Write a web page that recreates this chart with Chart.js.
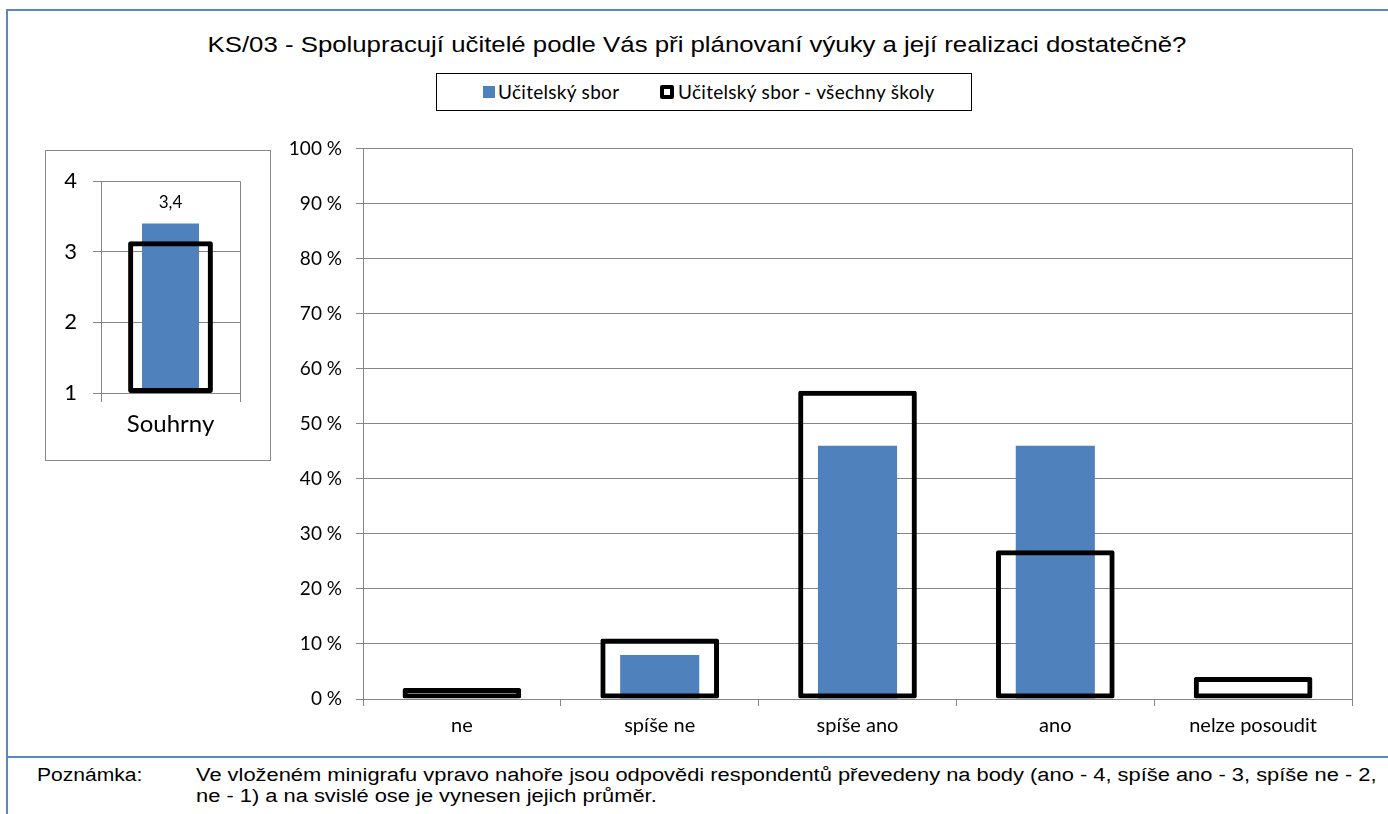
<!DOCTYPE html>
<html>
<head>
<meta charset="utf-8">
<script src="https://cdn.jsdelivr.net/npm/chart.js@4"></script>
<style>
  body { margin: 0; width: 1388px; height: 814px; overflow: hidden; background: #fff; position: relative; font-family: "Liberation Sans", Arial, sans-serif; }
  .frame { position: absolute; left: 6px; top: 9px; width: 1400px; height: 820px; border-left: 2px solid #5b87c5; border-top: 2px solid #5b87c5; }
  .sep { position: absolute; left: 6px; top: 756px; width: 1382px; height: 2px; background: #5b87c5; }
  .title { position: absolute; left: 0; top: 32px; width: 1394px; text-align: center; font-size: 22px; color: #000; transform: scaleX(1.172); transform-origin: 697px 0; }
  .legend { position: absolute; left: 436px; top: 73px; width: 534px; height: 36px; border: 1.5px solid #000; font-family: Lato, "Open Sans", sans-serif; font-size: 19px; letter-spacing: 0.3px; color: #000; }
  .legend span { position: absolute; }
  .sw1 { left: 46px; top: 12px; width: 12px; height: 12px; background: #4F81BD; }
  .sw2 { left: 223px; top: 11px; width: 14px; height: 14px; box-sizing: border-box; border: 4px solid #000; border-radius: 2px; }
  .mini { position: absolute; left: 45px; top: 150px; width: 224px; height: 309px; border: 1px solid #888; }
  #mainChart { position: absolute; left: 290px; top: 123px; }
  #miniChart { position: absolute; left: 50px; top: 152px; }
  .note { position: absolute; top: 765px; font-size: 18px; color: #000; line-height: 21px; transform-origin: 0 0; }
</style>
</head>
<body>
<div class="frame"></div>
<div class="sep"></div>
<div class="title">KS/03 - Spolupracují učitelé podle Vás při plánovaní výuky a její realizaci dostatečně?</div>
<div class="legend">
  <span class="sw1"></span><span style="left:61px; top:6px;">Učitelský sbor</span>
  <span class="sw2"></span><span style="left:241px; top:6px;">Učitelský sbor - všechny školy</span>
</div>
<div class="mini"></div>
<canvas id="miniChart" width="210" height="298"></canvas>
<canvas id="mainChart" width="1080" height="626"></canvas>
<div class="note" style="left:37px; transform: scaleX(1.17);">Poznámka:</div>
<div class="note" style="left:196px; width:1000px; transform: scaleX(1.215);">Ve vloženém minigrafu vpravo nahoře jsou odpovědi respondentů převedeny na body (ano - 4, spíše ano - 3, spíše ne - 2,<br>ne - 1) a na svislé ose je vynesen jejich průměr.</div>

<script>
// data
const categories = ['ne', 'spíše ne', 'spíše ano', 'ano', 'nelze posoudit'];
const schoolValues = [0, 8, 46, 46, 0];
const allSchoolsValues = [2, 11, 56, 27, 4];

const summaryLabels = ['Souhrny'];
const summarySchool = [3.4];
const summaryAll = [3.15];
const summaryBase = 1;

const seriesNames = ['Učitelský sbor', 'Učitelský sbor - všechny školy'];

const gridGray = '#868686';
const blue = '#4F81BD';
const calibri = 'Lato, "Open Sans", sans-serif';

Chart.defaults.devicePixelRatio = 1;
Chart.defaults.animation = false;

// right border of plot area
const rightEdge = {
    id: 'rightEdge',
    afterDraw(chart) {
        const a = chart.chartArea;
        const c = chart.ctx;
        c.save();
        c.strokeStyle = gridGray;
        c.lineWidth = 1;
        c.beginPath();
        c.moveTo(Math.round(a.right) + 0.5, a.top);
        c.lineTo(Math.round(a.right) + 0.5, a.bottom);
        c.stroke();
        c.restore();
    }
};

// value label above the blue bar in the mini chart
const valueLabel = {
    id: 'valueLabel',
    afterDatasetsDraw(chart) {
        const meta = chart.getDatasetMeta(0);
        const c = chart.ctx;
        c.save();
        c.font = '17px ' + calibri;
        c.fillStyle = '#000';
        c.textAlign = 'center';
        c.textBaseline = 'middle';
        meta.data.forEach((bar, i) => {
            c.fillText(summarySchool[i].toFixed(1).replace('.', ','), bar.x, bar.y - 21);
        });
        c.restore();
    }
};

new Chart(document.getElementById('mainChart'), {
    type: 'bar',
    data: {
        labels: categories,
        datasets: [{
            label: seriesNames[0],
            data: schoolValues,
            backgroundColor: blue,
            barPercentage: 0.4,
            categoryPercentage: 1,
            grouped: false,
            order: 1
        }, {
            label: seriesNames[1],
            data: allSchoolsValues,
            backgroundColor: 'rgba(0,0,0,0)',
            borderColor: '#000',
            borderWidth: 5,
            borderRadius: 2,
            borderSkipped: false,
            barPercentage: 0.6,
            categoryPercentage: 1,
            grouped: false,
            order: 0
        }]
    },
    options: {
        responsive: false,
        layout: { padding: { top: 13, right: 18, left: 0, bottom: 0 } },
        plugins: { legend: { display: false }, tooltip: { enabled: false } },
        scales: {
            x: {
                offset: true,
                grid: { offset: true, drawOnChartArea: false, color: gridGray, tickLength: 7 },
                border: { color: gridGray },
                ticks: { color: '#000', font: { family: calibri, size: 20 }, padding: 8 },
                afterFit(s) { s.height = 50; }
            },
            y: {
                min: 0,
                max: 100,
                ticks: { stepSize: 10, color: '#000', font: { family: calibri, size: 19 }, padding: 14,
                         callback: v => v + ' %' },
                grid: { color: gridGray, tickLength: 7 },
                border: { color: gridGray },
                afterFit(s) { s.width = 73; }
            }
        }
    },
    plugins: [rightEdge]
});

new Chart(document.getElementById('miniChart'), {
    type: 'bar',
    data: {
        labels: summaryLabels,
        datasets: [{
            label: seriesNames[0],
            data: summarySchool.map(v => [summaryBase, v]),
            backgroundColor: blue,
            barPercentage: 0.41,
            categoryPercentage: 1,
            grouped: false,
            order: 1
        }, {
            label: seriesNames[1],
            data: summaryAll.map(v => [summaryBase, v]),
            backgroundColor: 'rgba(0,0,0,0)',
            borderColor: '#000',
            borderWidth: 5,
            borderRadius: 2,
            borderSkipped: false,
            barPercentage: 0.61,
            categoryPercentage: 1,
            grouped: false,
            order: 0
        }]
    },
    options: {
        responsive: false,
        layout: { padding: { top: 13, right: 20, left: 0, bottom: 0 } },
        plugins: { legend: { display: false }, tooltip: { enabled: false } },
        scales: {
            x: {
                offset: true,
                grid: { offset: true, color: gridGray, tickLength: 9 },
                border: { color: gridGray },
                ticks: { color: '#000', font: { family: calibri, size: 24 }, padding: 8 },
                afterFit(s) { s.height = 57; }
            },
            y: {
                min: 1,
                max: 4,
                ticks: { stepSize: 1, color: '#000', font: { family: calibri, size: 22 }, padding: 16 },
                grid: { color: gridGray, tickLength: 8 },
                border: { color: gridGray },
                afterFit(s) { s.width = 51; }
            }
        }
    },
    plugins: [valueLabel]
});
</script>
</body>
</html>
